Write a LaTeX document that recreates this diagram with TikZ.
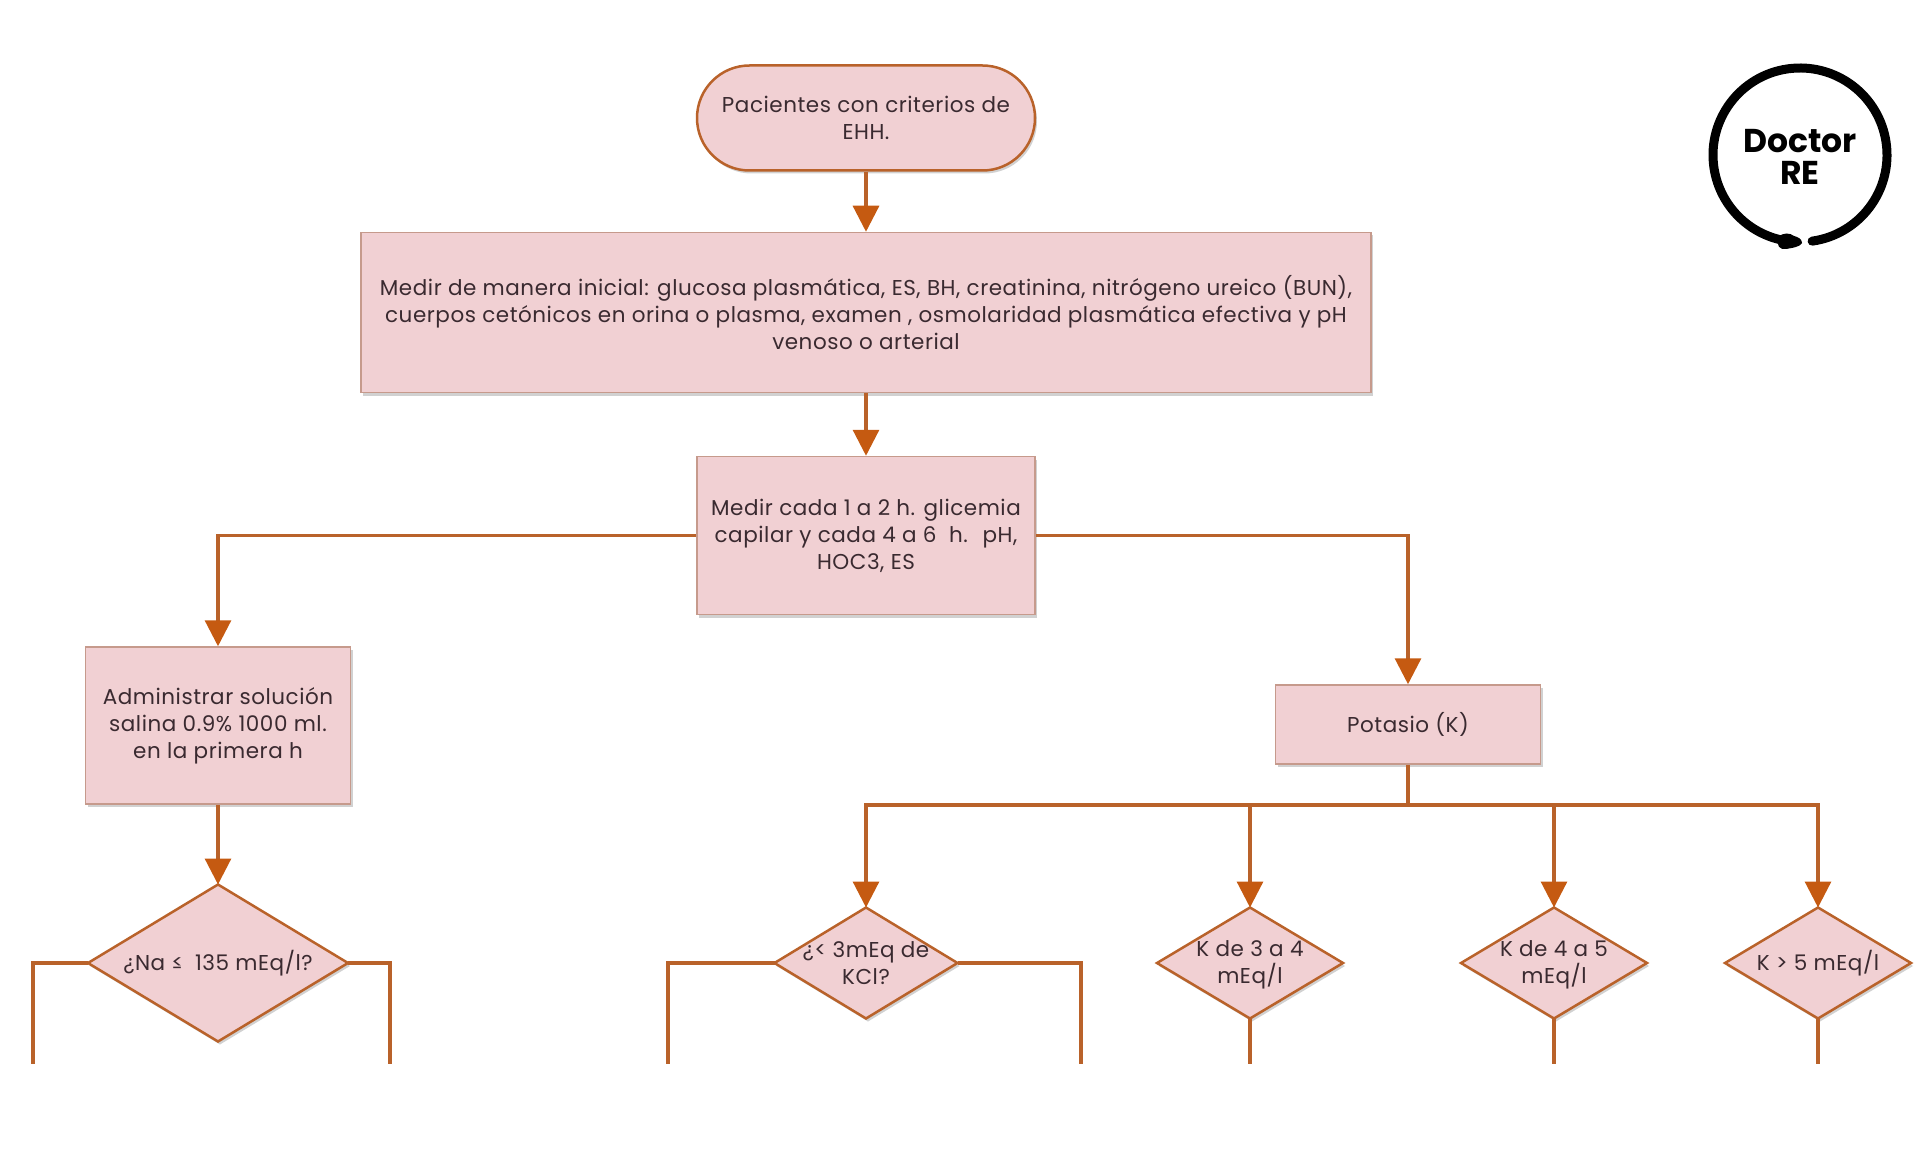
\documentclass[tikz,border=0pt]{standalone}
\usepackage{fontspec}
\setmainfont{Poppins}
\newfontfamily\spaced[LetterSpace=2.5]{Poppins}
\usetikzlibrary{arrows.meta,shapes.geometric,shapes.misc,shadows}
\definecolor{boxfill}{HTML}{F1D0D3}
\definecolor{linecol}{HTML}{B9622A}
\definecolor{tipcol}{HTML}{C55A11}
\definecolor{edgecol}{HTML}{C69A8C}
\definecolor{textcol}{HTML}{3A2A30}
\tikzset{
  x=1pt,y=-1pt,
  softshadow/.style={drop shadow={shadow xshift=2pt,shadow yshift=-3pt,fill=black!45,opacity=.4}},
  txt/.style={text=textcol,font=\spaced\fontsize{21.5}{27}\selectfont,align=center,inner sep=0pt},
  procbox/.style={rectangle,draw=edgecol,line width=1.5pt,fill=boxfill,softshadow,txt},
  termbox/.style={rounded rectangle,draw=linecol,line width=2.5pt,fill=boxfill,softshadow,txt},
  choice/.style={diamond,draw=linecol,line width=2.5pt,fill=boxfill,softshadow,inner sep=0pt,outer sep=0pt},
  conn/.style={draw=linecol,line width=3.2pt},
  arrowconn/.style={conn,-{Triangle[width=26pt,length=26pt,color=tipcol]},shorten >=0pt},
}
\begin{document}
\begin{tikzpicture}
\useasboundingbox (0,0) rectangle (1920,1166);
\node[termbox,minimum width=338pt,minimum height=105pt] (start) at (866,118) {Pacientes con criterios de\\EHH.};
\node[procbox,minimum width=1010pt,minimum height=160pt] (measure) at (866,312.5) {Medir de manera inicial: glucosa plasmática, ES, BH, creatinina, nitrógeno ureico (BUN),\\cuerpos cetónicos en orina o plasma, examen , osmolaridad plasmática efectiva y pH\\venoso o arterial};
\node[procbox,minimum width=338pt,minimum height=158pt] (hourly) at (866,535.5) {Medir cada 1 a 2 h. glicemia\\capilar y cada 4 a 6 \ h. \ pH,\\HOC3, ES};
\node[procbox,minimum width=265pt,minimum height=157pt] (saline) at (218,725.5) {Administrar solución\\salina 0.9\% 1000 ml.\\en la primera h};
\node[procbox,minimum width=265pt,minimum height=79pt] (potasio) at (1408,724.5) {Potasio (K)};

\node[choice,minimum width=260pt,minimum height=157pt] (na) at (218,963) {};
\node[txt] (natext) at (218,963) {¿Na ≤ \ 135 mEq/l?};
\node[choice,minimum width=183pt,minimum height=111pt] (kcl) at (866,963) {};
\node[txt] (kcltext) at (866,963) {¿< 3mEq de\\KCl?};
\node[choice,minimum width=186pt,minimum height=111pt] (k34) at (1250,963) {};
\node[txt] (k34text) at (1250,965) {K de 3 a 4\\mEq/l};
\node[choice,minimum width=186pt,minimum height=111pt] (k45) at (1554,963) {};
\node[txt] (k45text) at (1554,965) {K de 4 a 5\\mEq/l};
\node[choice,minimum width=186pt,minimum height=111pt] (k5) at (1818,963) {};
\node[txt] (k5text) at (1818,963) {K > 5 mEq/l};

\coordinate (bus) at (1408,805);
\coordinate (naL) at (33,1064);
\coordinate (naR) at (390,1064);
\coordinate (kclL) at (668,1064);
\coordinate (kclR) at (1081,1064);
\coordinate (k34end) at (1250,1064);
\coordinate (k45end) at (1554,1064);
\coordinate (k5end) at (1818,1064);

\draw[arrowconn] (start.south) -- (measure.north);
\draw[arrowconn] (measure.south) -- (hourly.north);
\draw[arrowconn] (hourly.west) -| (saline.north);
\draw[arrowconn] (hourly.east) -| (potasio.north);
\draw[arrowconn] (saline.south) -- (na.north);
\draw[conn] (potasio.south) -- (bus);
\draw[arrowconn] (bus) -| (kcl.north);
\draw[arrowconn] (bus) -| (k34.north);
\draw[arrowconn] (bus) -| (k45.north);
\draw[arrowconn] (bus) -| (k5.north);
\draw[conn] (na.west) -| (naL);
\draw[conn] (na.east) -| (naR);
\draw[conn] (kcl.west) -| (kclL);
\draw[conn] (kcl.east) -| (kclR);
\draw[conn] (k34.south) -- (k34end);
\draw[conn] (k45.south) -- (k45end);
\draw[conn] (k5.south) -- (k5end);

% logo
\draw[black,line width=9pt,line cap=round] (1800,155) ++(82:87) arc[start angle=82,end angle=-257,radius=87];
\fill[black] (1778,237) .. controls (1784,232) and (1790,233) .. (1794,236) .. controls (1798,237) and (1802,239) .. (1802,243) .. controls (1800,247) and (1792,248) .. (1786,249) .. controls (1780,250) and (1776,246) .. (1778,237);
\node[inner sep=0pt,align=center,font=\fontsize{33}{32}\bfseries\selectfont] (logo) at (1800,157) {Doctor\\RE};
\end{tikzpicture}
\end{document}
